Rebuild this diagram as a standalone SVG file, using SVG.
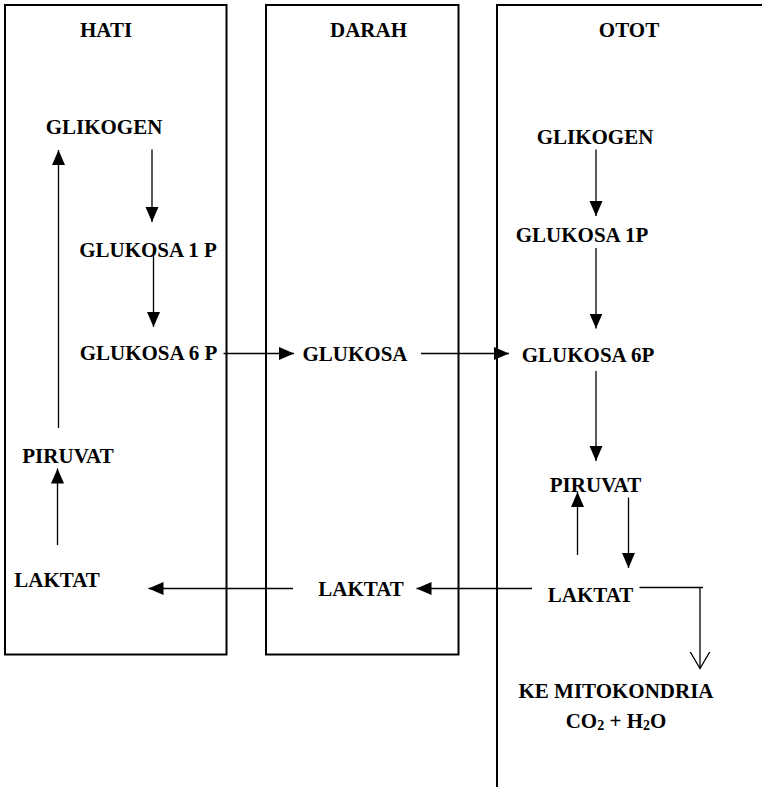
<svg xmlns="http://www.w3.org/2000/svg" width="762" height="787" viewBox="0 0 762 787">
<style>
.box{fill:none;stroke:#000;stroke-width:2}
.t{font-family:"Liberation Serif","Times New Roman",serif;font-weight:bold;font-size:21px;fill:#000;text-anchor:middle}
.c{fill:none;stroke:#000;stroke-width:1.3}
</style>
<defs>
<marker id="ah" markerUnits="userSpaceOnUse" markerWidth="16" markerHeight="14" refX="15" refY="6.5" orient="auto">
<path d="M0,0 L15,6.5 L0,13 z" fill="#000"/>
</marker>
<marker id="ao" markerUnits="userSpaceOnUse" markerWidth="20" markerHeight="22" refX="17" refY="10.5" orient="auto">
<path d="M0,0.5 L17,10.5 L0,20.5" fill="none" stroke="#000" stroke-width="1.3"/>
</marker>
</defs>
<g id="panel-hati">
<rect class="box" x="5" y="5" width="221.5" height="649.5"/>
<text class="t" x="106" y="37">HATI</text>
</g>
<g id="panel-darah">
<rect class="box" x="266" y="5" width="192.5" height="649.5"/>
<text class="t" x="368.5" y="37">DARAH</text>
</g>
<g id="panel-otot">
<path class="box" d="M763,5 L497,5 L497,788"/>
<text class="t" x="629" y="37">OTOT</text>
</g>
<g id="hati-glikogen"><text class="t" x="104" y="134">GLIKOGEN</text></g>
<g id="hati-glukosa1p"><text class="t" x="148" y="257">GLUKOSA 1 P</text></g>
<g id="hati-glukosa6p"><text class="t" x="148.5" y="360">GLUKOSA 6 P</text></g>
<g id="hati-piruvat"><text class="t" x="68" y="463">PIRUVAT</text></g>
<g id="hati-laktat"><text class="t" x="57" y="587">LAKTAT</text></g>
<g id="darah-glukosa"><text class="t" x="355" y="361">GLUKOSA</text></g>
<g id="darah-laktat"><text class="t" x="361" y="596">LAKTAT</text></g>
<g id="otot-glikogen"><text class="t" x="595" y="144">GLIKOGEN</text></g>
<g id="otot-glukosa1p"><text class="t" x="582" y="242">GLUKOSA 1P</text></g>
<g id="otot-glukosa6p"><text class="t" x="588" y="362">GLUKOSA 6P</text></g>
<g id="otot-piruvat"><text class="t" x="595.5" y="492">PIRUVAT</text></g>
<g id="otot-laktat"><text class="t" x="590.5" y="602">LAKTAT</text></g>
<g id="mitokondria">
<text class="t" x="616" y="698">KE MITOKONDRIA</text>
<text class="t" x="616" y="728">CO<tspan font-size="14" dy="2">2</tspan><tspan dy="-2"> + H</tspan><tspan font-size="14" dy="2">2</tspan><tspan dy="-2">O</tspan></text>
</g>
<g id="connectors">
<path class="c" marker-end="url(#ah)" d="M58.5,428 L58.5,150"/>
<path class="c" marker-end="url(#ah)" d="M152,149.5 L152,222"/>
<path class="c" marker-end="url(#ah)" d="M153.5,252 L153.5,327"/>
<path class="c" marker-end="url(#ah)" d="M223.5,353.5 L294,353.5"/>
<path class="c" marker-end="url(#ah)" d="M421,353.5 L509,353.5"/>
<path class="c" marker-end="url(#ah)" d="M596,149.5 L596,216"/>
<path class="c" marker-end="url(#ah)" d="M596,248 L596,328.5"/>
<path class="c" marker-end="url(#ah)" d="M596,371 L596,461"/>
<path class="c" marker-end="url(#ah)" d="M577.5,555 L577.5,492"/>
<path class="c" marker-end="url(#ah)" d="M628.5,497.5 L628.5,568"/>
<path class="c" marker-end="url(#ah)" d="M532,588.5 L416.5,588.5"/>
<path class="c" marker-end="url(#ah)" d="M293,588.5 L148.5,588.5"/>
<path class="c" marker-end="url(#ah)" d="M57.5,545 L57.5,468.5"/>
<path class="c" d="M639.5,587.5 L703,587.5"/>
<path class="c" marker-end="url(#ao)" d="M700,587.5 L700,668.5"/>
</g>
</svg>
